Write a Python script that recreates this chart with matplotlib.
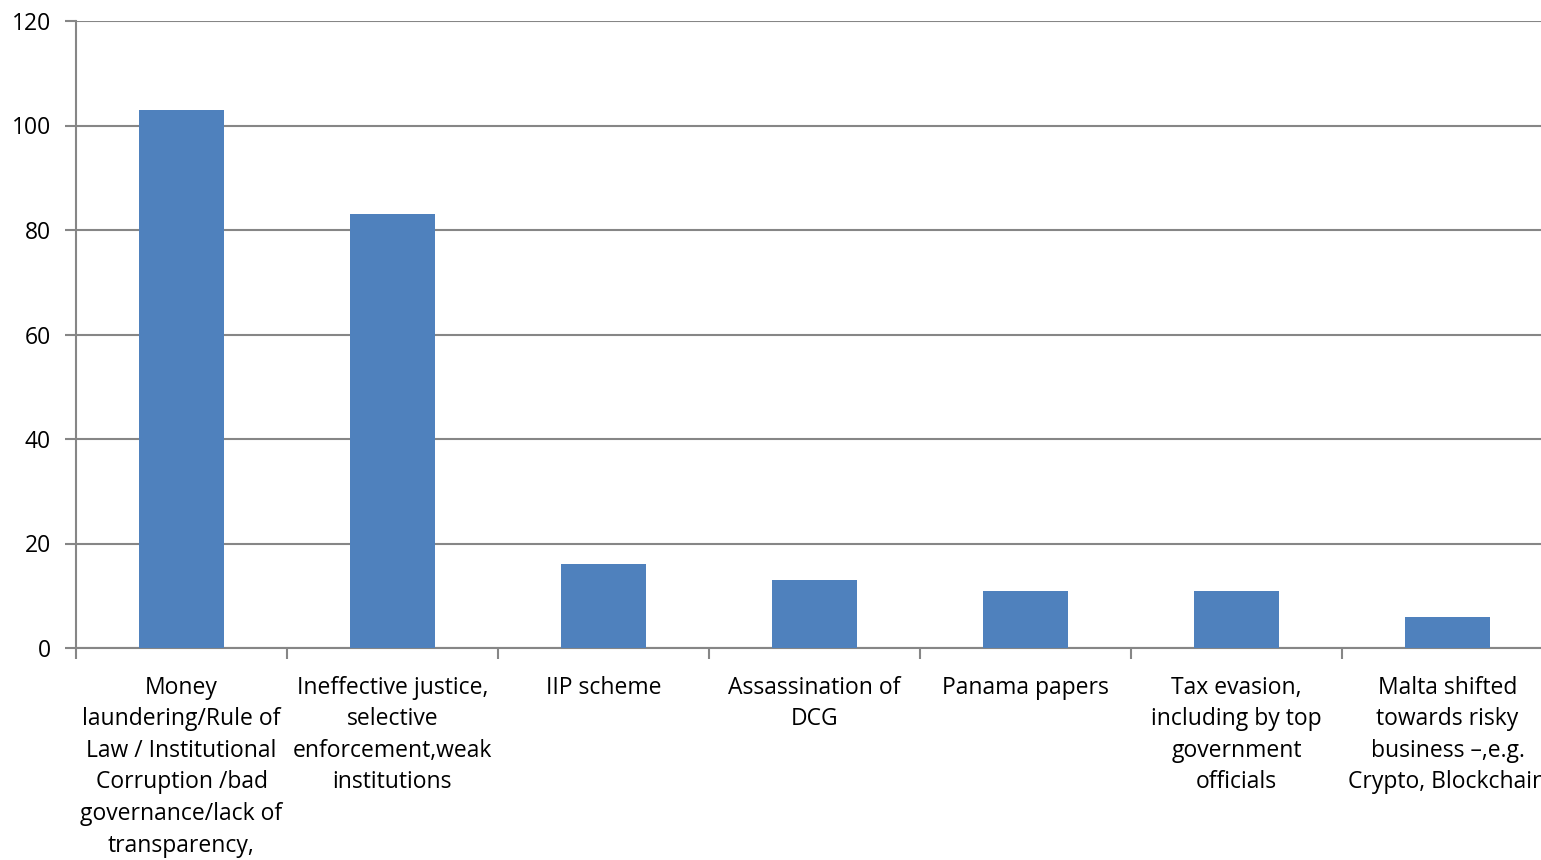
import matplotlib.pyplot as plt
import numpy as np

categories = [
    "Money\nlaundering/Rule of\nLaw / Institutional\nCorruption /bad\ngovernance/lack of\ntransparency,",
    "Ineffective justice,\nselective\nenforcement,weak\ninstitutions",
    "IIP scheme",
    "Assassination of\nDCG",
    "Panama papers",
    "Tax evasion,\nincluding by top\ngovernment\nofficials",
    "Malta shifted\ntowards risky\nbusiness \u2013,e.g.\nCrypto, Blockchain",
]
values = [103, 83, 16, 13, 11, 11, 6]

plt.rcParams['font.family'] = ['Open Sans', 'DejaVu Sans']
grid_col = '#868686'

fig = plt.figure(figsize=(15.41, 8.60), dpi=100)
# plot area runs past the right edge of the canvas
ax = fig.add_axes([76 / 1541, (860 - 648) / 860, (1553 - 76) / 1541, (648 - 21) / 860])

x = np.arange(len(values))
ax.bar(x, values, width=0.4, color='#4F81BD', zorder=3)

ax.set_xlim(-0.5, len(values) - 0.5)
ax.set_ylim(0, 120)
ax.set_yticks(range(0, 121, 20))
ax.yaxis.grid(True, color=grid_col, linewidth=1.5, zorder=0)

ax.set_xticks(x)
ax.set_xticklabels(categories, fontsize=16.5, linespacing=1.42, va='top')
ax.set_xticks(np.arange(-0.5, len(values) - 0.4, 1), minor=True)
ax.tick_params(axis='x', which='major', length=0, pad=20)
ax.tick_params(axis='x', which='minor', length=8, color=grid_col, width=1.5)
ax.tick_params(axis='y', length=8, color=grid_col, width=1.5, labelsize=16.5, pad=10)

for s in ['top', 'right']:
    ax.spines[s].set_visible(False)
for s in ['left', 'bottom']:
    ax.spines[s].set_color(grid_col)
    ax.spines[s].set_linewidth(1.5)

fig.savefig('out.png', dpi=100)
